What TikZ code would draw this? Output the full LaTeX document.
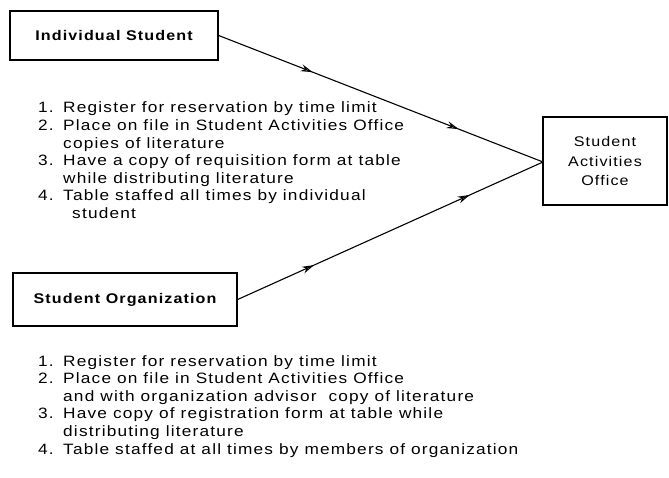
\documentclass[tikz,border=0pt]{standalone}
\usepackage{fontspec}
\setmainfont{Liberation Sans}[FakeStretch=1.15,LetterSpace=8]
\usetikzlibrary{arrows.meta,decorations.markings}
\begin{document}
\begin{tikzpicture}[x=1pt,y=-1pt,
  box/.style={draw, line width=1.3pt, inner sep=0pt},
  lbl/.style={font=\bfseries\fontsize{14}{16}\selectfont},
  listtext/.style={anchor=base west, inner sep=0pt, font=\fontsize{15}{17.6}\selectfont},
  flow/.style n args={2}{line width=1.1pt, postaction={decorate},
    decoration={markings,
      mark=at position #1 with {\arrow{Stealth[length=12pt,width=7pt,open,line width=1pt]}},
      mark=at position #2 with {\arrow{Stealth[length=12pt,width=7pt,open,line width=1pt]}}}}]
\useasboundingbox (0,0) rectangle (669,478);

\node[box, lbl, minimum width=208pt, minimum height=49pt] (is) at (114,35.5) {Individual Student};
\node[box, lbl, minimum width=224pt, minimum height=53pt] (so) at (125,299.5) {Student Organization};
\node[box, minimum width=124pt, minimum height=88pt, align=center,
      font=\fontsize{14}{19.5}\selectfont] (sao) at (605,161) {Student\\Activities\\Office};
\coordinate (m) at (543,162);

\draw[flow={0.29}{0.74}] (is.east) -- (m);
\draw[flow={0.25}{0.76}] (so.east) -- (m);

\node[listtext] (l1) at (38,113) {\begin{tabular}[t]{@{}p{25pt}@{}l@{}}
1. & Register for reservation by time limit\\
2. & Place on file in Student Activities Office\\
   & copies of literature\\
3. & Have a copy of requisition form at table\\
   & while distributing literature\\
4. & Table staffed all times by individual\\
   & \hspace{9pt}student
\end{tabular}};

\node[listtext] (l2) at (38,366) {\begin{tabular}[t]{@{}p{25pt}@{}l@{}}
1. & Register for reservation by time limit\\
2. & Place on file in Student Activities Office\\
   & and with organization advisor\ \ copy of literature\\
3. & Have copy of registration form at table while\\
   & distributing literature\\
4. & Table staffed at all times by members of organization
\end{tabular}};
\end{tikzpicture}
\end{document}
